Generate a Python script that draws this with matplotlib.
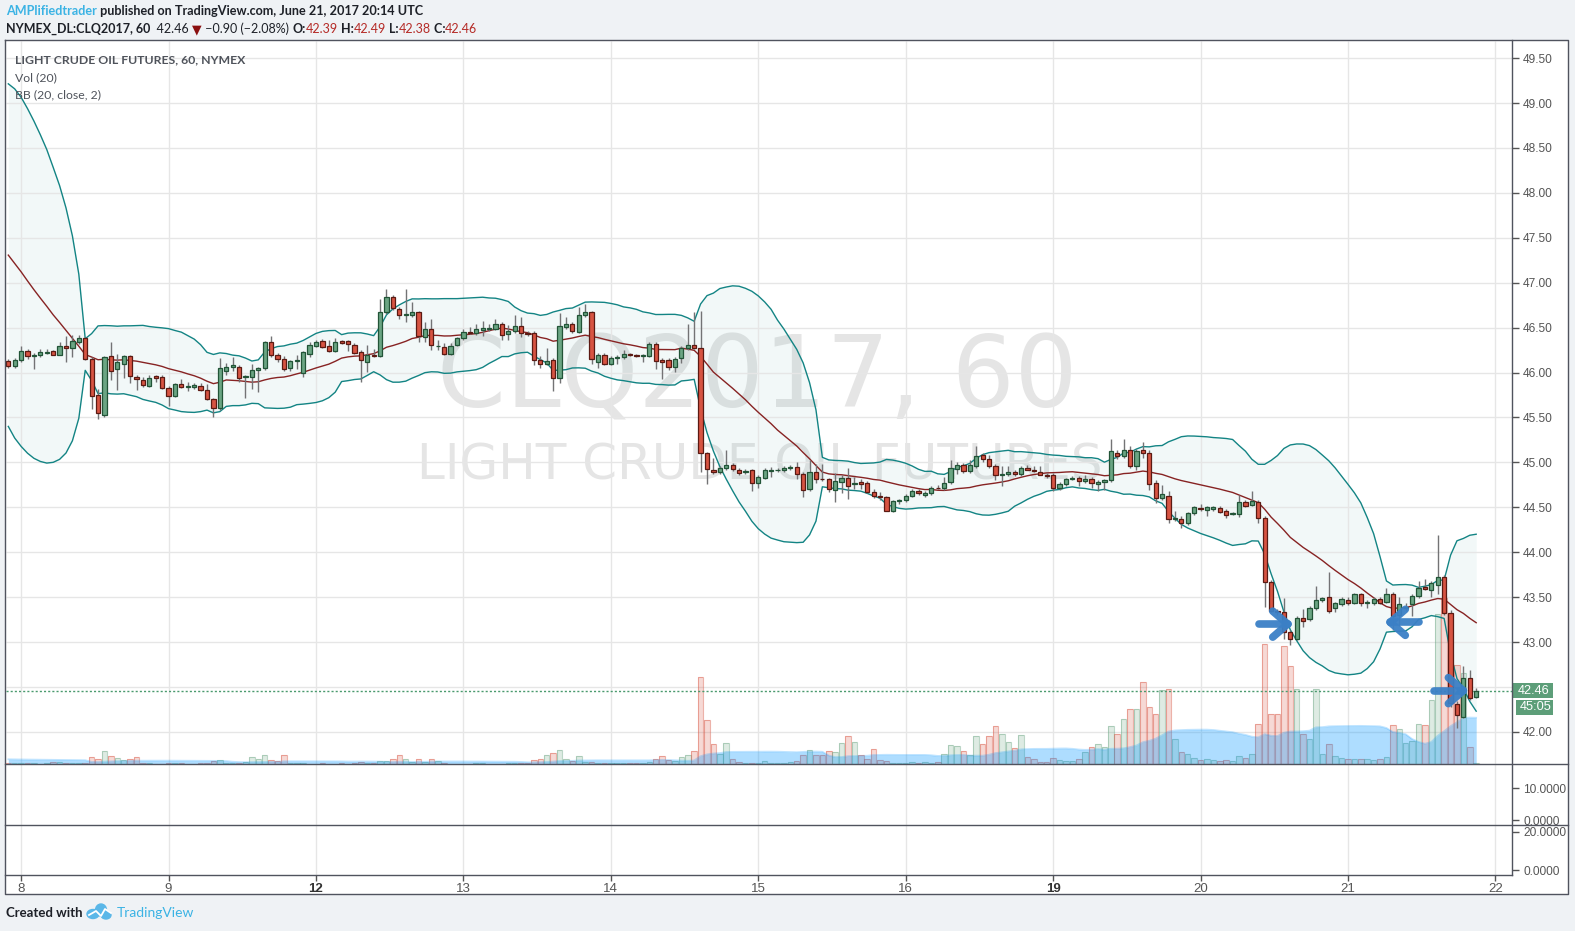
import numpy as np
import pandas as pd
import matplotlib
matplotlib.use("Agg")
import matplotlib.pyplot as plt
from matplotlib import font_manager
from matplotlib.patches import Rectangle, Ellipse
from matplotlib.transforms import blended_transform_factory, Bbox, TransformedBbox

# ---- CLQ2017 hourly bars, 7-21 June 2017 ----
opens = [
    46.13, 46.07, 46.14, 46.24, 46.18, 46.19, 46.22, 46.24, 46.20, 46.30,
    46.27, 46.34, 46.38, 46.15, 45.75, 45.53, 46.18, 46.04, 46.10, 46.18,
    45.95, 45.92, 45.85, 45.96, 45.95, 45.83, 45.74, 45.87, 45.84, 45.84,
    45.85, 45.81, 45.71, 45.60, 46.02, 46.06, 46.06, 45.95, 45.95, 46.03,
    46.05, 46.34, 46.20, 46.15, 46.05, 46.13, 46.00, 46.21, 46.30, 46.35,
    46.30, 46.24, 46.35, 46.35, 46.31, 46.23, 46.12, 46.19, 46.18, 46.67,
    46.84, 46.71, 46.64, 46.64, 46.67, 46.40, 46.49, 46.29, 46.28, 46.21,
    46.31, 46.38, 46.45, 46.44, 46.47, 46.48, 46.49, 46.54, 46.43, 46.46,
    46.52, 46.44, 46.44, 46.14, 46.10, 46.14, 45.94, 46.51, 46.54, 46.45,
    46.64, 46.67, 46.12, 46.20, 46.10, 46.16, 46.17, 46.21, 46.19, 46.18,
    46.18, 46.32, 46.14, 46.14, 46.06, 46.16, 46.27, 46.31, 46.27, 45.10,
    44.92, 44.89, 44.94, 44.97, 44.92, 44.89, 44.91, 44.77, 44.83, 44.90,
    44.91, 44.91, 44.94, 44.95, 44.87, 44.70, 44.89, 44.82, 44.81, 44.69,
    44.78, 44.83, 44.76, 44.78, 44.77, 44.67, 44.63, 44.62, 44.46, 44.57,
    44.58, 44.63, 44.68, 44.64, 44.66, 44.72, 44.71, 44.78, 44.93, 44.97,
    44.90, 44.96, 45.08, 45.04, 44.96, 44.86, 44.87, 44.89, 44.87, 44.94,
    44.92, 44.89, 44.86, 44.86, 44.71, 44.76, 44.82, 44.83, 44.79, 44.82,
    44.76, 44.78, 44.80, 45.11, 45.07, 45.14, 44.96, 45.14, 45.10, 44.77,
    44.60, 44.63, 44.37, 44.37, 44.32, 44.44, 44.49, 44.47, 44.48, 44.49,
    44.46, 44.43, 44.43, 44.56, 44.53, 44.56, 44.38, 43.67, 43.35, 43.33,
    43.11, 43.04, 43.27, 43.26, 43.38, 43.47, 43.50, 43.38, 43.42, 43.47,
    43.44, 43.53, 43.44, 43.43, 43.48, 43.45, 43.54, 43.30, 43.38, 43.42,
    43.51, 43.61, 43.58, 43.64, 43.73, 43.32, 42.31, 42.17, 42.60, 42.39,
]
highs = [
    46.15, 46.16, 46.29, 46.26, 46.22, 46.26, 46.26, 46.25, 46.34, 46.41,
    46.42, 46.42, 46.40, 46.17, 45.82, 46.18, 46.34, 46.21, 46.19, 46.19,
    45.97, 45.95, 45.97, 45.97, 45.97, 45.85, 45.88, 45.93, 45.89, 45.88,
    45.88, 45.87, 45.72, 46.16, 46.11, 46.17, 46.08, 45.97, 46.10, 46.06,
    46.35, 46.41, 46.22, 46.18, 46.14, 46.20, 46.24, 46.34, 46.36, 46.37,
    46.36, 46.38, 46.36, 46.36, 46.33, 46.25, 46.31, 46.26, 46.82, 46.93,
    46.86, 46.73, 46.93, 46.78, 46.69, 46.56, 46.60, 46.36, 46.33, 46.33,
    46.40, 46.49, 46.51, 46.54, 46.57, 46.54, 46.60, 46.56, 46.53, 46.64,
    46.62, 46.46, 46.46, 46.18, 46.27, 46.16, 46.66, 46.62, 46.56, 46.73,
    46.76, 46.69, 46.22, 46.22, 46.18, 46.19, 46.25, 46.22, 46.21, 46.21,
    46.34, 46.34, 46.16, 46.16, 46.17, 46.30, 46.54, 46.67, 46.68, 45.12,
    45.05, 44.96, 45.14, 44.99, 44.94, 44.93, 44.93, 44.86, 44.94, 44.95,
    44.94, 44.96, 44.97, 45.01, 44.89, 45.03, 44.98, 44.98, 44.83, 44.88,
    44.86, 44.94, 44.84, 44.81, 44.79, 44.70, 44.67, 44.63, 44.58, 44.59,
    44.65, 44.70, 44.70, 44.68, 44.74, 44.75, 44.84, 45.03, 45.00, 44.99,
    45.03, 45.18, 45.10, 45.08, 44.98, 44.96, 44.96, 44.91, 44.96, 44.97,
    44.96, 44.96, 44.88, 44.88, 44.78, 44.83, 44.85, 44.85, 44.86, 44.84,
    44.80, 44.82, 45.26, 45.14, 45.26, 45.18, 45.15, 45.23, 45.14, 44.80,
    44.75, 44.68, 44.46, 44.40, 44.45, 44.51, 44.54, 44.52, 44.52, 44.51,
    44.48, 44.45, 44.64, 44.58, 44.68, 44.58, 44.40, 43.69, 43.37, 43.49,
    43.13, 43.29, 43.37, 43.40, 43.62, 43.50, 43.78, 43.45, 43.50, 43.50,
    43.55, 43.55, 43.47, 43.50, 43.50, 43.60, 43.56, 43.50, 43.43, 43.53,
    43.68, 43.70, 43.68, 44.19, 43.75, 43.36, 42.34, 42.73, 42.69, 42.49,
]
lows = [
    46.05, 46.05, 46.12, 46.15, 46.04, 46.17, 46.21, 46.19, 46.19, 46.12,
    46.17, 46.32, 46.14, 45.59, 45.48, 45.50, 45.92, 45.81, 45.94, 45.88,
    45.81, 45.84, 45.84, 45.90, 45.82, 45.63, 45.73, 45.83, 45.80, 45.82,
    45.80, 45.70, 45.50, 45.58, 45.97, 46.02, 45.89, 45.72, 45.82, 45.78,
    46.03, 46.17, 46.12, 46.02, 46.02, 46.04, 45.95, 46.17, 46.28, 46.27,
    46.23, 46.23, 46.32, 46.24, 46.21, 45.90, 46.01, 46.17, 46.17, 46.65,
    46.70, 46.60, 46.56, 46.62, 46.34, 46.34, 46.25, 46.25, 46.20, 46.19,
    46.29, 46.36, 46.43, 46.42, 46.41, 46.46, 46.47, 46.36, 46.36, 46.44,
    46.40, 46.41, 46.08, 46.05, 46.08, 45.79, 45.88, 46.49, 46.44, 46.44,
    46.62, 46.10, 46.05, 46.08, 46.08, 46.10, 46.15, 46.18, 46.17, 46.12,
    46.17, 46.04, 45.93, 46.03, 46.01, 46.11, 46.25, 46.26, 44.89, 44.76,
    44.87, 44.87, 44.92, 44.90, 44.86, 44.87, 44.68, 44.72, 44.81, 44.84,
    44.89, 44.89, 44.92, 44.82, 44.61, 44.68, 44.77, 44.79, 44.67, 44.56,
    44.66, 44.59, 44.70, 44.70, 44.66, 44.60, 44.58, 44.46, 44.45, 44.54,
    44.56, 44.61, 44.64, 44.62, 44.64, 44.70, 44.69, 44.76, 44.87, 44.88,
    44.88, 44.94, 45.00, 44.94, 44.80, 44.74, 44.85, 44.85, 44.85, 44.91,
    44.89, 44.86, 44.83, 44.68, 44.69, 44.74, 44.80, 44.74, 44.77, 44.72,
    44.68, 44.69, 44.78, 45.04, 45.05, 44.94, 44.91, 45.05, 44.69, 44.55,
    44.58, 44.33, 44.35, 44.27, 44.30, 44.42, 44.46, 44.40, 44.46, 44.44,
    44.38, 44.41, 44.39, 44.50, 44.51, 44.33, 43.39, 43.33, 43.30, 43.03,
    42.97, 43.02, 43.17, 43.23, 43.36, 43.45, 43.32, 43.33, 43.40, 43.41,
    43.42, 43.40, 43.38, 43.41, 43.42, 43.43, 43.14, 43.18, 43.35, 43.29,
    43.49, 43.58, 43.50, 43.53, 43.30, 42.28, 42.04, 42.15, 42.36, 42.38,
]
closes = [
    46.07, 46.14, 46.24, 46.18, 46.19, 46.23, 46.23, 46.20, 46.30, 46.27,
    46.35, 46.39, 46.15, 45.74, 45.55, 46.17, 46.02, 46.12, 46.18, 45.96,
    45.93, 45.86, 45.94, 45.94, 45.83, 45.74, 45.87, 45.84, 45.85, 45.86,
    45.81, 45.71, 45.61, 46.05, 46.06, 46.08, 45.94, 45.95, 46.03, 46.05,
    46.34, 46.19, 46.15, 46.04, 46.13, 46.14, 46.23, 46.31, 46.34, 46.28,
    46.24, 46.34, 46.33, 46.32, 46.22, 46.14, 46.20, 46.18, 46.67, 46.84,
    46.72, 46.64, 46.64, 46.67, 46.41, 46.49, 46.31, 46.29, 46.21, 46.30,
    46.38, 46.45, 46.44, 46.48, 46.50, 46.50, 46.54, 46.42, 46.46, 46.52,
    46.44, 46.43, 46.14, 46.10, 46.13, 45.94, 46.52, 46.54, 46.46, 46.64,
    46.67, 46.15, 46.20, 46.10, 46.16, 46.17, 46.21, 46.19, 46.18, 46.19,
    46.32, 46.13, 46.12, 46.06, 46.15, 46.27, 46.31, 46.27, 45.10, 44.93,
    44.89, 44.94, 44.97, 44.93, 44.88, 44.90, 44.77, 44.84, 44.91, 44.92,
    44.91, 44.94, 44.95, 44.87, 44.69, 44.89, 44.81, 44.81, 44.70, 44.79,
    44.83, 44.74, 44.77, 44.76, 44.67, 44.63, 44.62, 44.46, 44.57, 44.58,
    44.63, 44.68, 44.66, 44.66, 44.72, 44.71, 44.77, 44.94, 44.97, 44.90,
    44.97, 45.07, 45.04, 44.96, 44.86, 44.87, 44.89, 44.87, 44.94, 44.92,
    44.90, 44.86, 44.85, 44.71, 44.76, 44.81, 44.83, 44.79, 44.82, 44.77,
    44.78, 44.80, 45.13, 45.07, 45.14, 44.96, 45.13, 45.10, 44.76, 44.60,
    44.65, 44.37, 44.37, 44.32, 44.44, 44.50, 44.48, 44.50, 44.50, 44.45,
    44.41, 44.43, 44.56, 44.52, 44.57, 44.38, 43.67, 43.35, 43.34, 43.11,
    43.04, 43.27, 43.24, 43.38, 43.47, 43.49, 43.35, 43.43, 43.48, 43.43,
    43.53, 43.43, 43.44, 43.48, 43.44, 43.54, 43.29, 43.42, 43.39, 43.51,
    43.60, 43.59, 43.66, 43.73, 43.32, 42.32, 42.19, 42.60, 42.38, 42.46,
]
# volume, arbitrary units (1 unit = 1 px of bar height in the reference)
volumes = [
    1.0, 0.7, 0.7, 0.7, 0.7, 0.5, 1.5, 1.7, 1.7, 1.3,
    1.0, 1.5, 1.0, 6.7, 5.3, 13.3, 7.7, 6.3, 3.7, 4.7,
    6.7, 1.3, 1.0, 0.5, 0.5, 1.0, 1.0, 1.0, 0.5, 0.5,
    0.7, 1.0, 2.7, 3.7, 1.3, 0.7, 1.0, 2.3, 6.7, 5.3,
    8.7, 4.3, 3.3, 8.7, 1.0, 1.0, 1.0, 0.5, 0.5, 1.0,
    0.5, 0.5, 1.0, 0.5, 1.0, 2.3, 1.3, 1.0, 3.0, 2.7,
    5.3, 8.7, 5.3, 2.0, 5.3, 2.0, 5.3, 2.7, 1.0, 0.5,
    0.5, 0.5, 0.5, 1.3, 1.3, 0.5, 0.5, 0.5, 1.3, 1.3,
    1.3, 1.0, 4.3, 5.3, 9.3, 11.3, 14.3, 5.3, 3.0, 8.3,
    2.3, 2.0, 0.7, 0.7, 0.7, 0.7, 0.7, 0.7, 0.7, 1.3,
    2.0, 5.3, 8.3, 3.7, 3.0, 6.7, 8.7, 13.3, 87.3, 44.3,
    20.3, 10.3, 21.3, 4.7, 1.7, 0.7, 1.3, 1.3, 3.3, 1.3,
    0.7, 0.7, 1.7, 3.3, 9.3, 14.3, 8.7, 8.7, 13.3, 12.0,
    21.3, 27.7, 22.3, 9.3, 5.3, 15.3, 4.3, 3.0, 1.3, 0.7,
    1.3, 2.0, 1.3, 2.0, 1.3, 2.0, 10.3, 19.3, 18.3, 13.3,
    9.3, 27.7, 20.3, 28.3, 38.3, 30.3, 22.3, 16.3, 29.3, 6.7,
    5.3, 2.0, 2.0, 6.0, 4.0, 3.0, 3.0, 5.0, 12.0, 17.0,
    20.0, 17.0, 38.0, 30.0, 45.0, 55.0, 55.0, 82.0, 57.0, 50.0,
    74.0, 75.0, 25.0, 12.0, 10.0, 6.0, 4.0, 5.0, 4.0, 3.0,
    4.0, 3.0, 8.0, 6.0, 10.0, 40.0, 120.0, 50.0, 50.0, 118.0,
    98.0, 75.0, 30.0, 25.0, 75.0, 10.0, 20.0, 8.0, 6.0, 5.0,
    5.0, 5.0, 5.0, 4.0, 5.0, 7.0, 39.0, 35.0, 21.0, 23.0,
    40.0, 39.0, 64.0, 150.0, 166.0, 110.0, 99.0, 91.0, 17.0, 1.3,
]
# bars before the visible range, needed to seed BB(20) and Vol MA(20)
prior_closes = [48.00, 48.10, 48.20, 48.15, 48.10, 48.05, 48.10, 48.00, 48.05, 48.10,
                48.15, 48.00, 46.30, 46.15, 46.05, 46.15, 46.20, 46.10, 46.12]
prior_volumes = [3, 2, 2, 2, 2, 3, 2, 2, 2, 3, 4, 4, 40, 8, 5, 3, 3, 2, 2]

day_ticks = [2, 25, 48, 71, 94, 117, 140, 163, 186, 209, 232]
day_labels = ["8", "9", "12", "13", "14", "15", "16", "19", "20", "21", "22"]
bold_days = ["12", "19"]
price_ticks = np.arange(42.0, 49.51, 0.5)

# hand-drawn arrows: (bar, price, direction)
arrow_marks = [(199.6, 43.20, 1), (215.6, 43.22, -1), (227.0, 42.46, 1)]

# ---- indicators ----
c_all = pd.Series(prior_closes + closes)
basis = c_all.rolling(20).mean().iloc[len(prior_closes):].to_numpy()
dev = c_all.rolling(20).std(ddof=0).iloc[len(prior_closes):].to_numpy()
upper, lower = basis + 2 * dev, basis - 2 * dev
v_all = pd.Series(prior_volumes + volumes)
vol_ma = v_all.rolling(20).mean().iloc[len(prior_volumes):].to_numpy()

n = len(closes)
xs = np.arange(n)
o, h, l, c = map(np.array, (opens, highs, lows, closes))
up = c >= o

# ---- layout (pixels of the 1575x931 snapshot) ----
W, H = 1575, 931
X0, DX = 8.3, 6.41       # x of first bar, bar spacing
Y47, DY = 282.7, 89.85   # y of 47.00, pixels per 1.00
PL, PR = 6, 1512

avail = {f.name for f in font_manager.fontManager.ttflist}
UI = "Lato" if "Lato" in avail else "Liberation Sans"
SANS = "Liberation Sans"
TXT = "#555555"

fig = plt.figure(figsize=(W / 100, H / 100), dpi=100)
fig.patch.set_facecolor("#eff2f5")


def px_axes(x0, y0, x1, y1, zorder):
    ax = fig.add_axes([x0 / W, 1 - y1 / H, (x1 - x0) / W, (y1 - y0) / H], zorder=zorder)
    ax.patch.set_alpha(0)
    return ax


def pixel_layer(zorder):
    ax = px_axes(0, 0, W, H, zorder)
    ax.set_xlim(0, W)
    ax.set_ylim(H, 0)
    ax.axis("off")
    return ax


bg = pixel_layer(0)
bg.add_patch(Rectangle((5, 40), 1563, 854, facecolor="white", edgecolor="none"))

# watermark
bg.text(757, 380, "CLQ2017, 60", fontsize=71, family="DejaVu Sans", color="#e5e5e5",
        ha="center", va="center")
bg.text(760, 465, "LIGHT CRUDE OIL FUTURES", fontsize=36, family="DejaVu Sans",
        color="#e5e5e5", ha="center", va="center")

xlim = ((PL - X0) / DX, (PR - X0) / DX)
ylim = (47 - (764 - Y47) / DY, 47 + (Y47 - 41) / DY)

# main pane: grid + band fill
ax_m = px_axes(PL, 41, PR, 764, 1)
ax_m.set_xlim(*xlim)
ax_m.set_ylim(*ylim)
ax_m.axis("off")
ax_m.hlines(price_ticks, *xlim, color="#e6e6e6", lw=1)
ax_m.vlines(day_ticks, *ylim, color="#e6e6e6", lw=1)
ax_m.fill_between(xs, lower, upper, color="#198787", alpha=0.055, lw=0)

# volume overlay
ax_v = px_axes(PL, 41, PR, 764, 2)
ax_v.set_xlim(*xlim)
ax_v.set_ylim(0, 723)
ax_v.axis("off")
vc = np.where(up, "#6ba583", "#d75442")
ax_v.bar(xs, volumes, width=0.86, color=vc, alpha=0.22, lw=0)
ax_v.bar(xs, volumes, width=0.86, facecolor="none", edgecolor=vc, alpha=0.45, lw=0.8)
ax_v.fill_between(xs, 0, vol_ma, color="#0496ff", alpha=0.32, lw=0)
ax_v.plot(xs, vol_ma, color="#0496ff", alpha=0.25, lw=1.2)

# candles, bands, price line
ax_c = px_axes(PL, 41, PR, 764, 3)
ax_c.set_xlim(*xlim)
ax_c.set_ylim(*ylim)
for s in ax_c.spines.values():
    s.set_visible(False)
ax_c.plot(xs, upper, color="#138484", lw=1)
ax_c.plot(xs, lower, color="#138484", lw=1)
ax_c.plot(xs, basis, color="#872323", lw=1)
ax_c.vlines(xs, np.minimum(l, np.minimum(o, c)), np.maximum(h, np.maximum(o, c)),
            color="#737375", lw=1, zorder=3)
body_lo = np.minimum(o, c)
body_h = np.maximum(np.abs(c - o), 0.008)
ax_c.bar(xs, body_h, bottom=body_lo, width=0.66,
         color=np.where(up, "#6ba583", "#d75442"),
         edgecolor=np.where(up, "#225437", "#5b1a13"), lw=0.9, zorder=4)
ax_c.axhline(c[-1], color="#4a9a6e", lw=1, ls=(0, (1.5, 1.5)), zorder=2)

for bx, py, d in arrow_marks:
    kw = dict(color="#3b80c6", lw=5.5, solid_capstyle="round", zorder=6, alpha=0.95)
    ax_c.plot([bx - d * 29 / DX, bx], [py, py], **kw)
    ax_c.plot([bx - d * 15 / DX, bx], [py + 13 / DY, py], **kw)
    ax_c.plot([bx - d * 15 / DX, bx], [py - 13 / DY, py], **kw)

ax_c.set_xticks([])
ax_c.yaxis.tick_right()
ax_c.set_yticks(price_ticks)
ax_c.set_yticklabels([f"{p:.2f}" for p in price_ticks])
ax_c.tick_params(axis="y", length=5, width=1, color=TXT, labelcolor=TXT, pad=3,
                 labelsize=8.6, labelfontfamily=SANS)

# last price tags on the price scale
blend = blended_transform_factory(ax_c.transAxes, ax_c.transData)
aw = 1.0 / (PR - PL)          # one pixel in axes fraction
tag_top = None
for label, dx0, dy in [(f"{c[-1]:.2f}", 0, 0), ("45:05", 4, -16.5)]:
    yc = c[-1] + dy / DY
    ax_c.add_patch(Rectangle((1 + dx0 * aw, yc - 7.5 / DY), (41 - dx0) * aw, 15 / DY,
                             transform=blend, facecolor="#5d9e79", edgecolor="none",
                             clip_on=False, zorder=7))
    ax_c.text(1 + (dx0 + 41) / 2 * aw + 1 * aw, yc, label, transform=blend, ha="center",
              va="center", color="white", fontsize=9.2, family=SANS, zorder=8,
              clip_on=False)
    if tag_top is None:
        tag_top = yc + 7.5 / DY

# the tick label hidden under the last-price tag only shows above it
top_disp = ax_c.transData.transform((0, tag_top))[1]
for lab in ax_c.get_yticklabels():
    if lab.get_text() == f"{np.floor(c[-1] * 2 + 1) / 2:.2f}":
        lab.set_clip_box(TransformedBbox(Bbox.from_extents(0, top_disp, W, H),
                                         matplotlib.transforms.IdentityTransform()))
        lab.set_clip_on(True)

# two empty indicator panes
for (y0, y1, top, lo, ticks) in [(764, 825, 17.5, -1.56, [0, 10]),
                                 (825, 875, 23.68, -2.63, [0, 20])]:
    ax_p = px_axes(PL, y0, PR, y1, 2)
    ax_p.set_xlim(*xlim)
    ax_p.set_ylim(lo, top)
    for s in ax_p.spines.values():
        s.set_visible(False)
    ax_p.vlines(day_ticks, lo, top, color="#e6e6e6", lw=1)
    ax_p.set_xticks([])
    ax_p.yaxis.tick_right()
    ax_p.set_yticks(ticks)
    ax_p.set_yticklabels([f"{t:.4f}" for t in ticks])
    ax_p.tick_params(axis="y", length=5, width=1, color=TXT, labelcolor=TXT, pad=3,
                     labelsize=8.6, labelfontfamily=SANS)

# time scale
ax_t = px_axes(PL, 874, PR, 875, 4)
ax_t.set_xlim(*xlim)
ax_t.set_yticks([])
for s in ax_t.spines.values():
    s.set_visible(False)
ax_t.set_xticks(day_ticks)
ax_t.set_xticklabels(day_labels)
ax_t.tick_params(axis="x", length=4, width=1, color=TXT, labelcolor=TXT, pad=2,
                 labelsize=9.5, labelfontfamily=SANS)
for lab in ax_t.get_xticklabels():
    if lab.get_text() in bold_days:
        lab.set_fontweight("bold")
        lab.set_color("#333333")

# frame lines and overlay texts on top
fg = pixel_layer(10)
lk = dict(color="#50535e", lw=1)
fg.plot([5, 1568, 1568, 5, 5], [40, 40, 894, 894, 40], **lk)
fg.plot([PR, PR], [40, 875], **lk)
fg.plot([5, 1568], [764, 764], **lk)
fg.plot([5, 1568], [825, 825], **lk)
fg.plot([5, PR], [875, 875], **lk)

renderer = fig.canvas.get_renderer()


def run_text(ax, x, y, parts, size, family):
    for s, color, weight in parts:
        t = ax.text(x, y, s, color=color, fontsize=size, fontweight=weight,
                    family=family, va="center", ha="left")
        x += t.get_window_extent(renderer=renderer).width
    return x


DARK = "#1e2128"
RED = "#b52b27"
run_text(bg, 6, 11, [("AMPlifiedtrader", "#3bb3e4", "bold"),
                     (" published on TradingView.com, June 21, 2017 20:14 UTC", DARK, "bold")],
         9.05, UI)
run_text(bg, 6, 29, [("NYMEX_DL:CLQ2017, 60", DARK, "bold"),
                     ("  42.46 ", DARK, "normal"),
                     ("\u25BC", "#8b1010", "normal"),
                     (" \u22120.90 (\u22122.08%) ", DARK, "normal"),
                     ("O:", DARK, "bold"), ("42.39", RED, "normal"),
                     (" H:", DARK, "bold"), ("42.49", RED, "normal"),
                     (" L:", DARK, "bold"), ("42.38", RED, "normal"),
                     (" C:", DARK, "bold"), ("42.46", RED, "normal")],
         9.0, [UI, "DejaVu Sans"])

fg.text(15, 60, "LIGHT CRUDE OIL FUTURES, 60, NYMEX", color="#4f535b", fontsize=8.8,
        fontweight="bold", family=UI, va="center")
fg.text(15, 77.5, "Vol (20)", color="#4f535b", fontsize=8.8, family=UI, va="center")
fg.text(15, 94.5, "BB (20, close, 2)", color="#4f535b", fontsize=8.8, family=UI, va="center")

# footer
bg.text(6, 913, "Created with", color=DARK, fontsize=9.5, fontweight="bold",
        family=UI, va="center")
for (ex, ey, ew, eh) in [(93, 914, 12, 9), (101, 910, 11, 12), (106, 915, 10, 8)]:
    bg.add_patch(Ellipse((ex, ey), ew, eh, color="#5ab7e8"))
bg.plot([89, 96, 101, 105, 111], [915, 911, 916, 909, 913], color="white", lw=1.3)
bg.text(117, 913, "TradingView", color="#3bb3e4", fontsize=10, family=UI, va="center")

fig.savefig("out.png", dpi=100)
